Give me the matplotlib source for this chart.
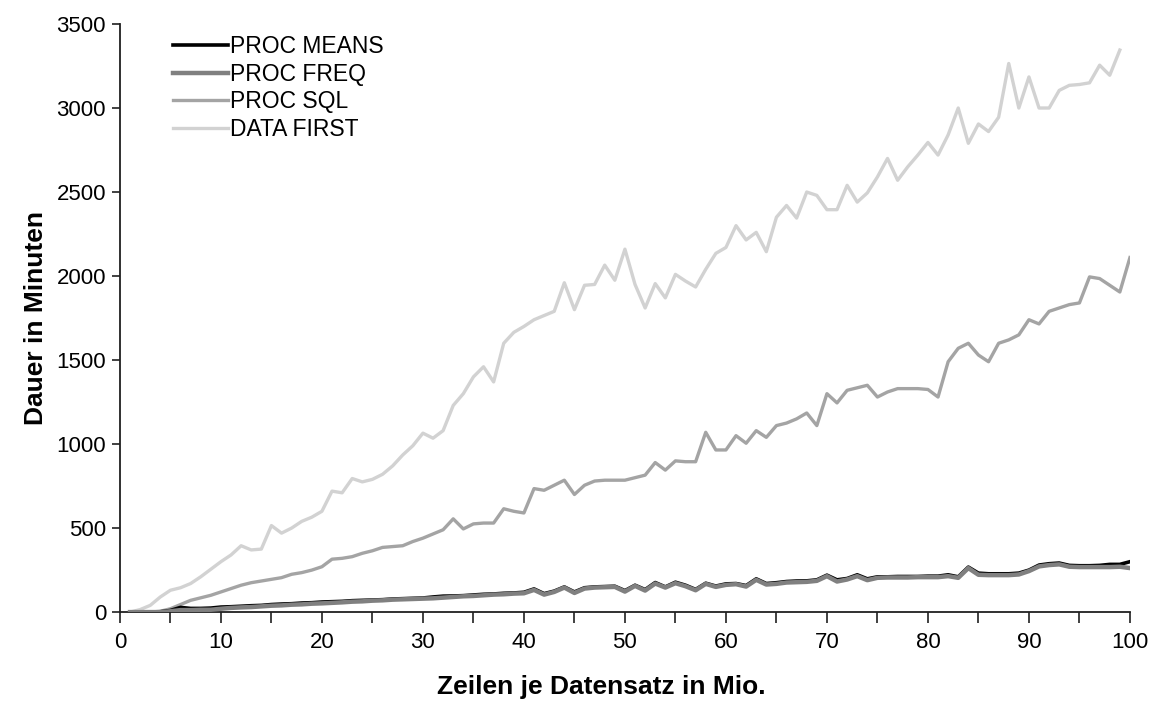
import numpy as np
import matplotlib
matplotlib.use("Agg")
from matplotlib import pyplot as plt

plt.rcParams['font.family'] = ['Liberation Sans', 'DejaVu Sans']

# Rows per data set in millions (x axis)
rows_mio = list(range(1, 101))

proc_means = [0, 0, 0, 2, 10, 28, 22, 22, 24, 30,
              32, 35, 38, 40, 45, 48, 50, 54, 56, 60,
              62, 64, 68, 70, 72, 74, 78, 80, 82, 84,
              90, 95, 96, 98, 102, 106, 108, 112, 114, 118,
              138, 110, 125, 150, 120, 145, 150, 152, 154, 128,
              160, 134, 176, 150, 178, 160, 135, 172, 155, 168,
              170, 158, 198, 170, 175, 182, 185, 186, 192, 220,
              192, 200, 222, 198, 210, 210, 212, 212, 212, 214,
              214, 222, 210, 268, 232, 228, 228, 228, 232, 250,
              280, 288, 292, 278, 276, 276, 278, 284, 284, 300]

proc_freq = [0, 0, 0, 0, 5, 12, 12, 14, 14, 20,
             25, 28, 30, 34, 38, 40, 44, 46, 50, 52,
             55, 58, 62, 64, 68, 70, 74, 76, 78, 80,
             82, 86, 90, 94, 96, 100, 104, 106, 110, 112,
             132, 104, 120, 146, 114, 140, 146, 148, 150, 122,
             156, 128, 170, 146, 172, 154, 130, 168, 150, 162,
             166, 152, 192, 164, 168, 176, 178, 180, 186, 214,
             182, 194, 214, 190, 204, 206, 206, 206, 208, 208,
             208, 214, 204, 262, 222, 220, 220, 220, 224, 244,
             272, 280, 284, 270, 268, 268, 268, 268, 270, 262]

proc_sql = [0, 0, 0, 5, 20, 45, 70, 85, 100, 120,
            140, 160, 175, 185, 195, 205, 225, 235, 250, 270,
            315, 320, 330, 350, 365, 385, 390, 395, 420, 440,
            465, 490, 555, 495, 525, 530, 530, 615, 600, 590,
            735, 725, 755, 785, 700, 755, 780, 785, 785, 785,
            800, 815, 890, 845, 900, 895, 895, 1070, 965, 965,
            1050, 1005, 1080, 1040, 1110, 1125, 1150, 1185, 1110, 1300,
            1245, 1320, 1335, 1350, 1280, 1310, 1330, 1330, 1330, 1325,
            1280, 1490, 1570, 1600, 1530, 1490, 1600, 1620, 1650, 1740,
            1715, 1790, 1810, 1830, 1840, 1995, 1985, 1945, 1905, 2110]

# DATA FIRST has one run less (ends at 99 Mio.)
data_first = [0, 15, 40, 90, 130, 145, 170, 210, 255, 300,
              340, 395, 370, 375, 515, 470, 500, 540, 565, 600,
              720, 710, 795, 775, 790, 820, 870, 935, 990, 1065,
              1035, 1080, 1230, 1300, 1400, 1460, 1370, 1600, 1665, 1700,
              1740, 1765, 1790, 1960, 1800, 1945, 1950, 2065, 1975, 2160,
              1950, 1810, 1955, 1870, 2010, 1970, 1935, 2040, 2135, 2170,
              2300, 2215, 2260, 2145, 2350, 2420, 2345, 2500, 2480, 2395,
              2395, 2540, 2440, 2495, 2590, 2700, 2570, 2650, 2720, 2795,
              2720, 2840, 3000, 2790, 2905, 2860, 2945, 3265, 3000, 3185,
              3000, 3000, 3105, 3135, 3140, 3150, 3255, 3195, 3345]

x_major = list(range(0, 101, 10))
y_ticks = list(range(0, 3501, 500))

fig = plt.figure(figsize=(11.53, 7.06), dpi=100)
ax = fig.add_axes([0.104, 0.133, 0.876, 0.833])

ax.plot(rows_mio, proc_means, color='black', lw=2.6, label='PROC MEANS', zorder=3)
ax.plot(rows_mio, proc_freq, color='#808080', lw=3.2, label='PROC FREQ', zorder=4)
ax.plot(rows_mio, proc_sql, color='#a4a4a4', lw=2.4, label='PROC SQL', zorder=2)
ax.plot(rows_mio[:len(data_first)], data_first, color='#d2d2d2', lw=2.4,
        label='DATA FIRST', zorder=1)

ax.set_xlim(0, 100)
ax.set_ylim(0, 3500)
ax.set_xticks(x_major)
ax.set_xticks(range(5, 100, 10), minor=True)
ax.set_yticks(y_ticks)

for side in ['top', 'right']:
    ax.spines[side].set_visible(False)
for side in ['left', 'bottom']:
    ax.spines[side].set_linewidth(1.3)
    ax.spines[side].set_color('#202020')

ax.tick_params(axis='both', which='both', direction='out', labelsize=16,
               color='#202020', width=1.2)
ax.tick_params(axis='x', which='major', length=8, pad=6)
ax.tick_params(axis='x', which='minor', length=8)
ax.tick_params(axis='y', length=6, pad=4)

ax.set_xlabel('Zeilen je Datensatz in Mio.', fontsize=19, fontweight='bold')
ax.set_ylabel('Dauer in Minuten', fontsize=19, fontweight='bold', labelpad=6)
ax.xaxis.set_label_coords(0.477, -0.107)

ax.legend(loc='upper left', bbox_to_anchor=(0.032, 1.016), frameon=False,
          fontsize=16.5, handlelength=2.4, handletextpad=0.1, labelspacing=0.2)

fig.savefig('out.png', dpi=100)
